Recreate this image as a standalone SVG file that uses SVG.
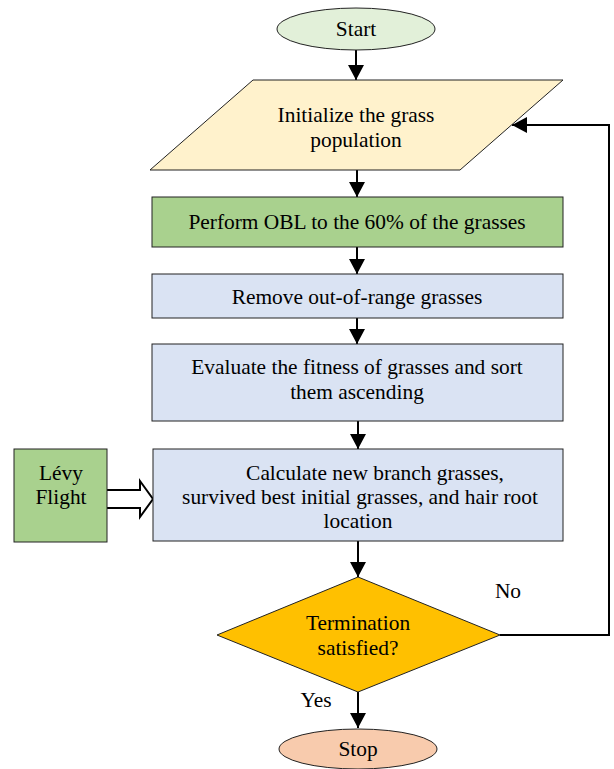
<svg xmlns="http://www.w3.org/2000/svg" width="614" height="769" viewBox="0 0 614 769">
<defs>
<marker id="ah" markerUnits="userSpaceOnUse" markerWidth="16" markerHeight="16" viewBox="0 0 16 16" refX="15" refY="8" orient="auto">
<path d="M0,0 L15,8 L0,16 Z" fill="#000"/>
</marker>
<style>
text{font-family:"Liberation Serif","Times New Roman",serif;font-size:21.4px;fill:#000;text-anchor:middle}
.n{stroke:#222;stroke-width:1}
.c{stroke:#000;stroke-width:2;fill:none;marker-end:url(#ah)}
</style>
</defs>
<rect width="614" height="769" fill="#fff"/>
<g id="connectors">
<line class="c" x1="356" y1="50" x2="356" y2="80"/>
<line class="c" x1="357" y1="170" x2="357" y2="197"/>
<line class="c" x1="357" y1="247" x2="357" y2="274"/>
<line class="c" x1="357" y1="318" x2="357" y2="344"/>
<line class="c" x1="358" y1="421" x2="358" y2="449"/>
<line class="c" x1="358" y1="541" x2="358" y2="577"/>
<line class="c" x1="358" y1="692" x2="358" y2="728"/>
<polyline class="c" points="500,635 609,635 609,125 512,125"/>
<path d="M107,490 L140,490 L140,481 L153,499 L140,517 L140,508 L107,508" fill="#fff" stroke="#000" stroke-width="2"/>
<text x="508" y="598">No</text>
<text x="316" y="707">Yes</text>
</g>
<g id="start">
<ellipse class="n" cx="356" cy="29" rx="79" ry="21" fill="#E2F0D9"/>
<text x="356" y="36">Start</text>
</g>
<g id="init">
<polygon class="n" points="253,80 563,80 460,170 150,170" fill="#FFF2CC"/>
<text x="356" y="122">Initialize the grass</text>
<text x="356" y="147">population</text>
</g>
<g id="obl">
<rect class="n" x="152" y="197" width="411" height="50" fill="#A9D18E"/>
<text x="357" y="229">Perform OBL to the 60% of the grasses</text>
</g>
<g id="remove">
<rect class="n" x="152" y="274" width="411" height="44" fill="#DAE3F3"/>
<text x="357" y="304">Remove out-of-range grasses</text>
</g>
<g id="evaluate">
<rect class="n" x="152" y="344" width="411" height="77" fill="#DAE3F3"/>
<text x="357" y="374">Evaluate the fitness of grasses and sort</text>
<text x="357" y="399">them ascending</text>
</g>
<g id="calculate">
<rect class="n" x="153" y="449" width="410" height="92" fill="#DAE3F3"/>
<text x="375" y="480">Calculate new branch grasses,</text>
<text x="360" y="504">survived best initial grasses, and hair root</text>
<text x="358" y="528">location</text>
</g>
<g id="levy">
<rect class="n" x="14" y="449" width="93" height="93" fill="#A9D18E"/>
<text x="61" y="480">Lévy</text>
<text x="61" y="504">Flight</text>
</g>
<g id="termination">
<polygon class="n" points="358,577 500,635 358,692 217,635" fill="#FFC000"/>
<text x="358" y="630">Termination</text>
<text x="358" y="655">satisfied?</text>
</g>
<g id="stop">
<ellipse class="n" cx="358" cy="749" rx="79" ry="20" fill="#F8CBAD"/>
<text x="358" y="756">Stop</text>
</g>
</svg>
